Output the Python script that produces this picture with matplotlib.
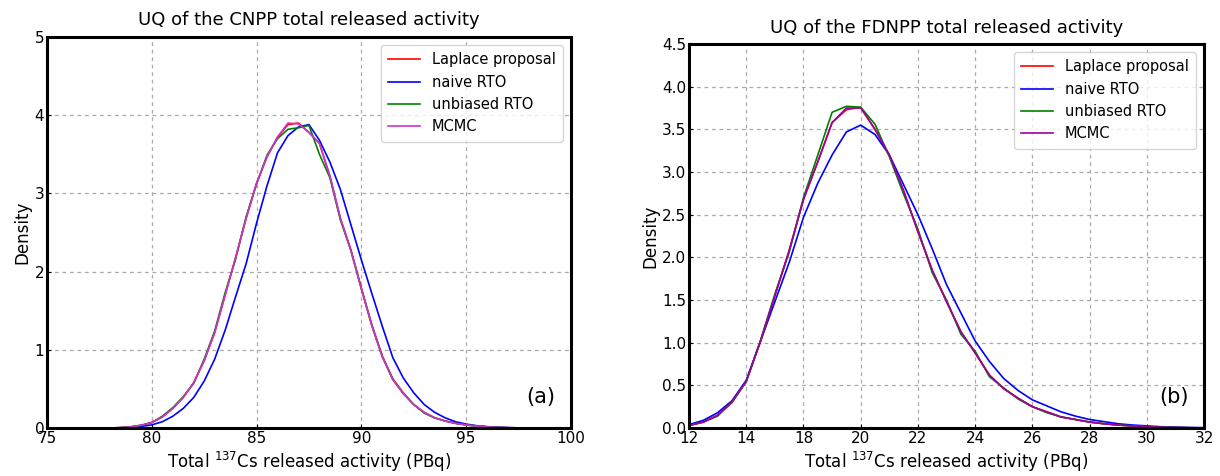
import numpy as np
import matplotlib
matplotlib.use('Agg')
import matplotlib.pyplot as plt

# ---- (a) CNPP ----
x_cnpp = [78.0, 78.5, 79.0, 79.5, 80.0, 80.5, 81.0, 81.5, 82.0, 82.5, 83.0, 83.5,
          84.0, 84.5, 85.0, 85.5, 86.0, 86.5, 87.0, 87.5, 88.0, 88.5, 89.0, 89.5,
          90.0, 90.5, 91.0, 91.5, 92.0, 92.5, 93.0, 93.5, 94.0, 94.5, 95.0, 95.5,
          96.0, 96.5, 97.0, 97.5, 98.0]
laplace_cnpp = [0.0, 0.005, 0.015, 0.035, 0.07, 0.14, 0.25, 0.39, 0.58, 0.86, 1.22, 1.7,
                2.18, 2.68, 3.13, 3.47, 3.72, 3.88, 3.9, 3.78, 3.64, 3.22, 2.68, 2.28,
                1.79, 1.32, 0.92, 0.63, 0.45, 0.3, 0.2, 0.13, 0.09, 0.06, 0.04, 0.025,
                0.015, 0.008, 0.004, 0.002, 0.0]
naive_cnpp = [0.0, 0.003, 0.008, 0.02, 0.04, 0.08, 0.15, 0.25, 0.39, 0.6, 0.88, 1.25,
              1.68, 2.1, 2.62, 3.1, 3.52, 3.74, 3.85, 3.88, 3.68, 3.4, 3.05, 2.6,
              2.15, 1.72, 1.3, 0.9, 0.64, 0.45, 0.3, 0.2, 0.13, 0.08, 0.05, 0.03,
              0.018, 0.01, 0.005, 0.002, 0.0]
unbiased_cnpp = [0.0, 0.005, 0.016, 0.036, 0.07, 0.15, 0.26, 0.4, 0.57, 0.88, 1.24, 1.73,
                 2.16, 2.7, 3.12, 3.49, 3.7, 3.82, 3.84, 3.87, 3.5, 3.2, 2.66, 2.27,
                 1.78, 1.31, 0.91, 0.62, 0.44, 0.3, 0.19, 0.13, 0.09, 0.06, 0.04, 0.025,
                 0.015, 0.008, 0.004, 0.002, 0.0]
mcmc_cnpp = [0.0, 0.005, 0.015, 0.035, 0.07, 0.14, 0.25, 0.39, 0.58, 0.86, 1.22, 1.7,
             2.18, 2.68, 3.13, 3.47, 3.72, 3.9, 3.89, 3.78, 3.64, 3.22, 2.68, 2.27,
             1.78, 1.31, 0.91, 0.62, 0.44, 0.3, 0.2, 0.13, 0.09, 0.06, 0.04, 0.025,
             0.015, 0.008, 0.004, 0.002, 0.0]

# ---- (b) FDNPP ----
# tick positions are evenly spaced, labels as printed on the original figure
x_fdnpp = [12.0, 12.5, 13.0, 13.5, 14.0, 14.5, 15.0, 15.5, 16.0, 16.5, 17.0, 17.5,
           18.0, 18.5, 19.0, 19.5, 20.0, 20.5, 21.0, 21.5, 22.0, 22.5, 23.0, 23.5,
           24.0, 24.5, 25.0, 25.5, 26.0, 26.5, 27.0, 27.5, 28.0, 28.5, 29.0, 29.5, 30.0]
laplace_fdnpp = [0.03, 0.07, 0.15, 0.3, 0.55, 1.02, 1.55, 2.08, 2.68, 3.12, 3.58, 3.73,
                 3.76, 3.5, 3.2, 2.78, 2.3, 1.85, 1.48, 1.13, 0.88, 0.62, 0.46, 0.35,
                 0.25, 0.19, 0.13, 0.1, 0.07, 0.05, 0.035, 0.025, 0.015, 0.01, 0.006, 0.003, 0.002]
naive_fdnpp = [0.04, 0.09, 0.18, 0.32, 0.56, 1.02, 1.48, 1.94, 2.47, 2.87, 3.2, 3.47,
               3.55, 3.44, 3.2, 2.85, 2.5, 2.1, 1.68, 1.35, 1.02, 0.78, 0.58, 0.44,
               0.33, 0.26, 0.19, 0.14, 0.1, 0.075, 0.05, 0.035, 0.025, 0.015, 0.01, 0.006, 0.004]
unbiased_fdnpp = [0.03, 0.07, 0.14, 0.31, 0.54, 1.03, 1.57, 2.06, 2.7, 3.2, 3.7, 3.77,
                  3.76, 3.56, 3.18, 2.74, 2.33, 1.82, 1.5, 1.1, 0.9, 0.6, 0.47, 0.34,
                  0.25, 0.18, 0.13, 0.1, 0.07, 0.05, 0.035, 0.025, 0.015, 0.01, 0.006, 0.003, 0.002]
mcmc_fdnpp = [0.03, 0.07, 0.15, 0.3, 0.55, 1.02, 1.55, 2.08, 2.68, 3.12, 3.58, 3.75,
              3.75, 3.5, 3.2, 2.78, 2.3, 1.85, 1.48, 1.13, 0.88, 0.62, 0.46, 0.35,
              0.25, 0.19, 0.13, 0.1, 0.07, 0.05, 0.035, 0.025, 0.015, 0.01, 0.006, 0.003, 0.002]
xtick_pos_fdnpp = [12, 14, 16, 18, 20, 22, 24, 26, 28, 30]
xtick_lab_fdnpp = ['12', '14', '18', '20', '22', '24', '26', '28', '30', '32']

labels = ['Laplace proposal', 'naive RTO', 'unbiased RTO', 'MCMC']

fig = plt.figure(figsize=(12.2, 4.76), dpi=100)
ax1 = fig.add_axes([0.0385, 0.1008, 0.4295, 0.8214])
ax2 = fig.add_axes([0.5648, 0.1008, 0.4221, 0.8067])


def style(ax):
    for s in ax.spines.values():
        s.set_linewidth(2.2)
    ax.tick_params(direction='in', length=3, width=0.8, labelsize=11, pad=2)
    ax.grid(True, linestyle=(0, (3, 3)), color='#aaaaaa', linewidth=0.9)
    ax.set_axisbelow(True)
    ax.set_ylabel('Density', fontsize=12, labelpad=2)
    ax.set_xlabel('Total $^{137}$Cs released activity (PBq)', fontsize=12, labelpad=3)


# (a)
ax1.plot(x_cnpp, laplace_cnpp, color='r', lw=1.2, label=labels[0])
ax1.plot(x_cnpp, naive_cnpp, color='b', lw=1.2, label=labels[1])
ax1.plot(x_cnpp, unbiased_cnpp, color='g', lw=1.2, label=labels[2])
ax1.plot(x_cnpp, mcmc_cnpp, color='#cc33cc', lw=1.2, label=labels[3])
ax1.set_xlim(75, 100)
ax1.set_ylim(0, 5)
ax1.set_xticks([75, 80, 85, 90, 95, 100])
ax1.set_yticks([0, 1, 2, 3, 4, 5])
ax1.set_title('UQ of the CNPP total released activity', fontsize=13, pad=9)
ax1.text(0.97, 0.08, '(a)', transform=ax1.transAxes, fontsize=15, ha='right', va='center')
style(ax1)
ax1.legend(loc='upper right', fontsize=10.5, borderaxespad=0.55, handlelength=2.2,
           labelspacing=0.5, borderpad=0.5)

# (b)
ax2.plot(x_fdnpp, laplace_fdnpp, color='r', lw=1.2, label=labels[0])
ax2.plot(x_fdnpp, naive_fdnpp, color='b', lw=1.2, label=labels[1])
ax2.plot(x_fdnpp, unbiased_fdnpp, color='g', lw=1.2, label=labels[2])
ax2.plot(x_fdnpp, mcmc_fdnpp, color='#a000a0', lw=1.2, label=labels[3])
ax2.set_xlim(12, 30)
ax2.set_ylim(0, 4.5)
ax2.set_xticks(xtick_pos_fdnpp)
ax2.set_xticklabels(xtick_lab_fdnpp)
ax2.set_yticks(np.arange(0, 4.51, 0.5))
ax2.set_title('UQ of the FDNPP total released activity', fontsize=13, pad=8)
ax2.text(0.97, 0.08, '(b)', transform=ax2.transAxes, fontsize=15, ha='right', va='center')
style(ax2)
ax2.legend(loc='upper right', fontsize=10.5, borderaxespad=0.55, handlelength=2.2,
           labelspacing=0.5, borderpad=0.5)

fig.savefig('out.png', dpi=100)
